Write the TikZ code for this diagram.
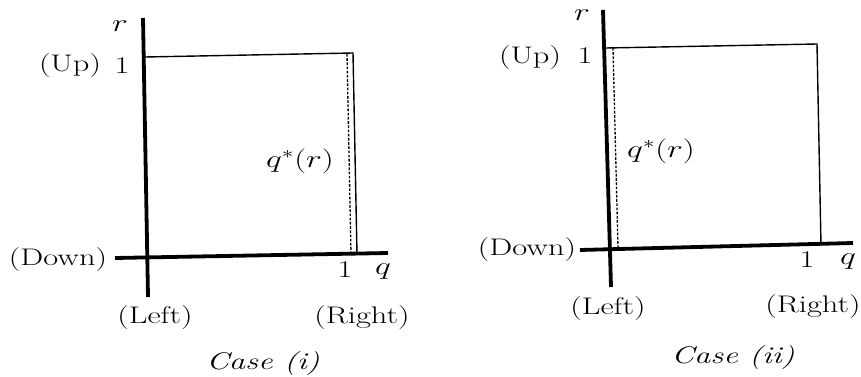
\documentclass[tikz,border=0pt]{standalone}
\usepackage{graphicx}
\newcommand{\widetxt}[1]{\scalebox{1.35}[1]{#1}}
\tikzset{
  axisline/.style={line width=3.8pt},
  boxline/.style={line width=1.4pt},
  dashline/.style={line width=1.3pt, dash pattern=on 2.6pt off 1.6pt},
  lbl/.style={inner sep=0pt, font=\fontsize{24}{28}\selectfont},
}
\begin{document}
\begin{tikzpicture}[x=1pt,y=-1pt]
\useasboundingbox (0,0) rectangle (861,377);
% ---------- Case (i)
\coordinate (Av1) at (143,18);
\coordinate (Av2) at (148,297);
\coordinate (Ah1) at (115,258);
\coordinate (Ah2) at (388,253);
\coordinate (Bt1) at (145,57);
\coordinate (Bt2) at (353,53);
\coordinate (Bb2) at (357,254);
\coordinate (Dt) at (347,54);
\coordinate (Db) at (351,254);
\draw[axisline] (Av1) -- (Av2);
\draw[axisline] (Ah1) -- (Ah2);
\draw[boxline] (Bt1) -- (Bt2) -- (Bb2);
\draw[dashline] (Dt) -- (Db);
\node[lbl] (r1) at (120,26) {\widetxt{$r$}};
\node[lbl] (up1) at (70,66) {\widetxt{(Up)}};
\node[lbl] (one1) at (122,66) {\widetxt{1}};
\node[lbl] (qs1) at (300,161) {\widetxt{$q^*(r)$}};
\node[lbl] (down1) at (58,260) {\widetxt{(Down)}};
\node[lbl] (onex1) at (345,270) {\widetxt{1}};
\node[lbl] (q1) at (383,272) {\widetxt{$q$}};
\node[lbl] (left1) at (155,318) {\widetxt{(Left)}};
\node[lbl] (right1) at (362,318) {\widetxt{(Right)}};
\node[lbl] (case1) at (263,364) {\widetxt{\textit{Case (i)}}};
% ---------- Case (ii)
\coordinate (Cv1) at (603,10);
\coordinate (Cv2) at (611,287);
\coordinate (Ch1) at (580,250);
\coordinate (Ch2) at (853,243);
\coordinate (Et1) at (606,48);
\coordinate (Et2) at (817,44);
\coordinate (Eb2) at (821,245);
\coordinate (Ft) at (613,48);
\coordinate (Fb) at (618,248);
\draw[axisline] (Cv1) -- (Cv2);
\draw[axisline] (Ch1) -- (Ch2);
\draw[boxline] (Et1) -- (Et2) -- (Eb2);
\draw[dashline] (Ft) -- (Fb);
\node[lbl] (r2) at (582,15) {\widetxt{$r$}};
\node[lbl] (up2) at (530,58) {\widetxt{(Up)}};
\node[lbl] (one2) at (585,56) {\widetxt{1}};
\node[lbl] (qs2) at (661,151) {\widetxt{$q^*(r)$}};
\node[lbl] (down2) at (527,250) {\widetxt{(Down)}};
\node[lbl] (onex2) at (807,260) {\widetxt{1}};
\node[lbl] (q2) at (848,262) {\widetxt{$q$}};
\node[lbl] (left2) at (608,309) {\widetxt{(Left)}};
\node[lbl] (right2) at (813,307) {\widetxt{(Right)}};
\node[lbl] (case2) at (733,358) {\widetxt{\textit{Case (ii)}}};
\end{tikzpicture}
\end{document}
